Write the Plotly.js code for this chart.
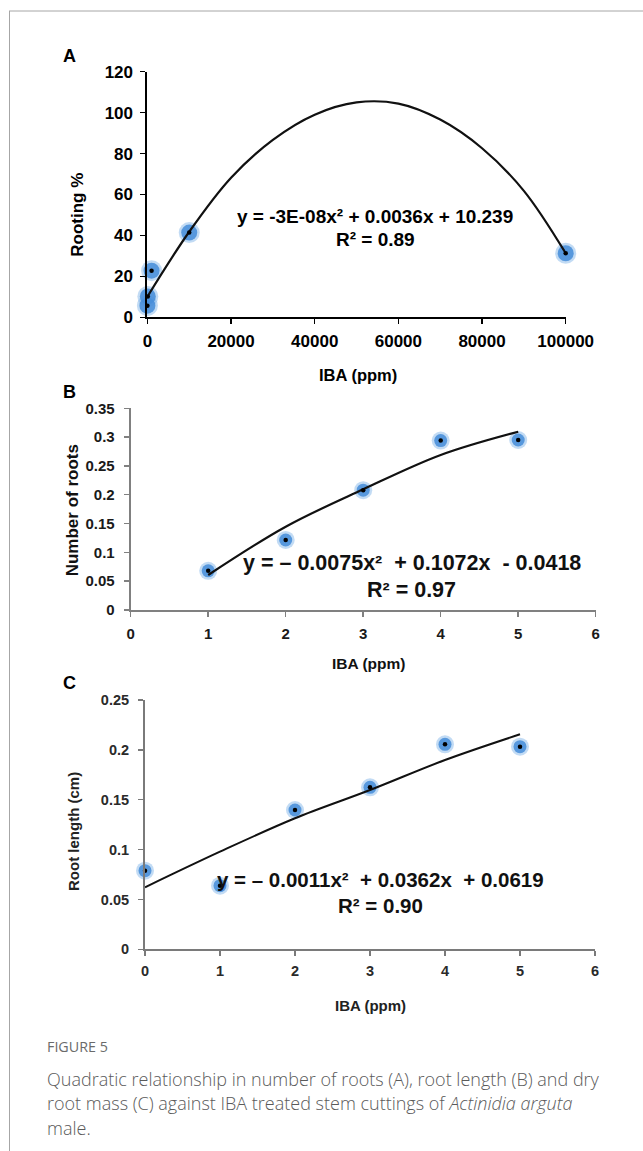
<!DOCTYPE html>
<html>
<head>
<meta charset="utf-8">
<script src="https://cdn.plot.ly/plotly-3.0.1.min.js"></script>
<style>
html,body{margin:0;padding:0;background:#fff;}
#chart{width:643px;height:1151px;}
</style>
</head>
<body>
<div id="chart"></div>
<script>
// ---------------- DATA ----------------
// Panel A: Rooting % vs IBA (ppm)
const aDose = [0, 100, 1000, 10000, 100000];
const aRooting = [5.7, 10.2, 22.8, 41.4, 31.3];
const aTrendX = [0, 10000, 20000, 30000, 40000, 50000, 60000, 70000, 80000, 90000, 100000];
const aTrendY = [10.1, 41.8, 68.2, 86.7, 99.0, 105.0, 104.4, 96.6, 82.6, 61.8, 31.3];
const aXTicks = [0, 20000, 40000, 60000, 80000, 100000];
const aXTickText = ["0", "20000", "40000", "60000", "80000", "100000"];
const aYTicks = [0, 20, 40, 60, 80, 100, 120];
const aYTickText = ["0", "20", "40", "60", "80", "100", "120"];

// Panel B: Number of roots vs IBA (ppm)
const bDose = [1, 2, 3, 4, 5];
const bRoots = [0.068, 0.1215, 0.208, 0.294, 0.295];
const bTrendX = [1, 2, 3, 4, 5];
const bTrendY = [0.0607, 0.1445, 0.2094, 0.269, 0.3094];
const bXTicks = [0, 1, 2, 3, 4, 5, 6];
const bXTickText = ["0", "1", "2", "3", "4", "5", "6"];
const bYTicks = [0, 0.05, 0.1, 0.15, 0.2, 0.25, 0.3, 0.35];
const bYTickText = ["0", "0.05", "0.1", "0.15", "0.2", "0.25", "0.3", "0.35"];

// Panel C: Root length (cm) vs IBA (ppm)
const cDose = [0, 1, 2, 3, 4, 5];
const cLength = [0.0788, 0.0638, 0.1397, 0.1624, 0.2056, 0.2032];
const cTrendX = [0, 1, 2, 3, 4, 5];
const cTrendY = [0.0622, 0.0979, 0.1314, 0.1597, 0.1898, 0.2156];
const cXTicks = [0, 1, 2, 3, 4, 5, 6];
const cXTickText = ["0", "1", "2", "3", "4", "5", "6"];
const cYTicks = [0, 0.05, 0.1, 0.15, 0.2, 0.25];
const cYTickText = ["0", "0.05", "0.1", "0.15", "0.2", "0.25"];

// Texts
const panelLabels = ["A", "B", "C"];
const xTitle = "IBA (ppm)";
const yTitles = ["Rooting %", "Number of roots", "Root length (cm)"];
const equations = ["y = -3E-08x² + 0.0036x + 10.239", "y = – 0.0075x²  + 0.1072x  - 0.0418", "y = – 0.0011x²  + 0.0362x  + 0.0619"];
const rSquared = ["R² = 0.89", "R² = 0.97", "R² = 0.90"];
const captionHead = "FIGURE 5";
const captionLines = [
  "Quadratic relationship in number of roots (A), root length (B) and dry",
  "root mass (C) against IBA treated stem cuttings of <i>Actinidia arguta</i>",
  "male."
];

// ---------------- LAYOUT HELPERS ----------------
const W = 643, H = 1151;
const PX = p => p / W;
const PY = p => 1 - p / H;
const FONT = "Liberation Sans, Arial, sans-serif";
const BLUE = "rgba(72,142,218,0.88)";
const BLUE_GLOW = "rgba(120,175,230,0.45)";

function points(x, y, xa, ya, size) {
  return [
    {x, y, xaxis: xa, yaxis: ya, type: "scatter", mode: "markers", cliponaxis: false,
     marker: {size: size + 5, color: BLUE_GLOW}, hoverinfo: "skip", showlegend: false},
    {x, y, xaxis: xa, yaxis: ya, type: "scatter", mode: "markers", cliponaxis: false,
     marker: {size: size, color: BLUE}, hoverinfo: "skip", showlegend: false}
  ];
}
function dots(x, y, xa, ya) {
  return {x, y, xaxis: xa, yaxis: ya, type: "scatter", mode: "markers", cliponaxis: false,
    marker: {size: 4.5, color: "#000"}, hoverinfo: "skip", showlegend: false};
}
function trend(x, y, xa, ya, w) {
  return {x, y, xaxis: xa, yaxis: ya, type: "scatter", mode: "lines", cliponaxis: false,
    line: {color: "#111", width: w, shape: "spline", smoothing: 1}, hoverinfo: "skip", showlegend: false};
}

const data = [
  ...points(aDose, aRooting, "x", "y", 16),
  trend(aTrendX, aTrendY, "x", "y", 2.2),
  dots(aDose, aRooting, "x", "y"),
  ...points(bDose, bRoots, "x2", "y2", 13),
  trend(bTrendX, bTrendY, "x2", "y2", 2.2),
  dots(bDose, bRoots, "x2", "y2"),
  ...points(cDose, cLength, "x3", "y3", 13),
  trend(cTrendX, cTrendY, "x3", "y3", 2),
  dots(cDose, cLength, "x3", "y3")
];

function axis(opts) {
  return {
    domain: opts.domain, range: opts.range, anchor: opts.anchor,
    tickmode: "array", tickvals: opts.tickvals, ticktext: opts.ticktext,
    showgrid: false, zeroline: false, showline: true, mirror: false,
    linecolor: opts.color, linewidth: opts.lw,
    ticks: "outside", ticklen: opts.ticklen, tickwidth: opts.tw, tickcolor: opts.color,
    ticklabelstandoff: opts.standoff,
    tickfont: {family: FONT, size: opts.fs, color: opts.fc, weight: "bold"},
    fixedrange: true
  };
}

const layout = {
  width: W, height: H,
  margin: {l: 0, r: 0, t: 0, b: 0, pad: 0},
  paper_bgcolor: "#fff", plot_bgcolor: "rgba(0,0,0,0)",
  showlegend: false, hovermode: false,
  // Panel A
  xaxis: axis({domain: [PX(147.4), PX(565.7)], range: [0, 100000], anchor: "y",
    tickvals: aXTicks, ticktext: aXTickText, color: "#000", lw: 2, ticklen: 5, tw: 1.5,
    standoff: 2, fs: 17, fc: "#000"}),
  yaxis: axis({domain: [PY(317.3), PY(71.7)], range: [0, 120], anchor: "x",
    tickvals: aYTicks, ticktext: aYTickText, color: "#000", lw: 2, ticklen: 5, tw: 1.5,
    standoff: 4, fs: 17, fc: "#000"}),
  // Panel B
  xaxis2: axis({domain: [PX(130.7), PX(595.7)], range: [0, 6], anchor: "y2",
    tickvals: bXTicks, ticktext: bXTickText, color: "#808080", lw: 2, ticklen: 5, tw: 1.5,
    standoff: 4, fs: 15, fc: "#1a1a1a"}),
  yaxis2: axis({domain: [PY(610), PY(408.3)], range: [0, 0.35], anchor: "x2",
    tickvals: bYTicks, ticktext: bYTickText, color: "#808080", lw: 2, ticklen: 5, tw: 1.5,
    standoff: 6, fs: 15, fc: "#1a1a1a"}),
  // Panel C
  xaxis3: axis({domain: [PX(145), PX(595)], range: [0, 6], anchor: "y3",
    tickvals: cXTicks, ticktext: cXTickText, color: "#7a7a7a", lw: 2, ticklen: 5, tw: 1.5,
    standoff: 2, fs: 14.5, fc: "#2a2a2a"}),
  yaxis3: axis({domain: [PY(949.3), PY(700)], range: [0, 0.25], anchor: "x3",
    tickvals: cYTicks, ticktext: cYTickText, color: "#7a7a7a", lw: 2, ticklen: 5, tw: 1.5,
    standoff: 6, fs: 14.5, fc: "#2a2a2a"}),
  shapes: [
    {type: "line", xref: "paper", yref: "paper", x0: PX(9), x1: 1, y0: PY(11), y1: PY(11),
     line: {color: "#a6a6a6", width: 1}},
    {type: "line", xref: "paper", yref: "paper", x0: PX(9.5), x1: PX(9.5), y0: PY(11), y1: 0,
     line: {color: "#a6a6a6", width: 1}}
  ],
  annotations: []
};

function txt(text, x, y, size, opts = {}) {
  layout.annotations.push(Object.assign({
    text, xref: "paper", yref: "paper", x: PX(x), y: PY(y),
    xanchor: "center", yanchor: "middle", showarrow: false,
    font: {family: FONT, size, color: "#000", weight: "bold"}
  }, opts));
}

// panel letters
txt(panelLabels[0], 69.3, 56, 18);
txt(panelLabels[1], 69.3, 391.7, 18);
txt(panelLabels[2], 69.3, 683.3, 18);
// x titles
txt(xTitle, 358.3, 375, 16.5);
txt(xTitle, 368.3, 663.3, 15.5, {font: {family: FONT, size: 15.5, color: "#111", weight: "bold"}});
txt(xTitle, 370, 1005, 15, {font: {family: FONT, size: 15, color: "#222", weight: "bold"}});
// y titles
txt(yTitles[0], 76.7, 215, 17, {textangle: -90});
txt(yTitles[1], 72.3, 510, 17, {textangle: -90, font: {family: FONT, size: 17, color: "#111", weight: "bold"}});
txt(yTitles[2], 73.3, 831.7, 15, {textangle: -90, font: {family: FONT, size: 15, color: "#222", weight: "bold"}});
// equations
txt(equations[0], 375, 216.7, 19);
txt(rSquared[0], 375, 239.3, 19);
txt(equations[1], 411.7, 562.7, 21.5, {font: {family: FONT, size: 21.5, color: "#111", weight: "bold"}});
txt(rSquared[1], 411.7, 590, 21.5, {font: {family: FONT, size: 21.5, color: "#111", weight: "bold"}});
txt(equations[2], 380, 879.3, 20.5, {font: {family: FONT, size: 20.5, color: "#111", weight: "bold"}});
txt(rSquared[2], 380, 905, 20.5, {font: {family: FONT, size: 20.5, color: "#111", weight: "bold"}});
// caption
const CAP = {family: "Open Sans, sans-serif", size: 18, color: "#5a5a5a", weight: 300};
txt(captionHead, 45, 1046, 14.3, {xanchor: "left", font: {family: "Open Sans, sans-serif", size: 14.3, color: "#6a6a6a", weight: 400}});
txt(captionLines[0], 45, 1078.5, 18, {xanchor: "left", font: CAP});
txt(captionLines[1], 45, 1103, 18, {xanchor: "left", font: CAP});
txt(captionLines[2], 45, 1127.5, 18, {xanchor: "left", font: CAP});

Plotly.newPlot("chart", data, layout, {staticPlot: true, displayModeBar: false});
</script>
</body>
</html>
